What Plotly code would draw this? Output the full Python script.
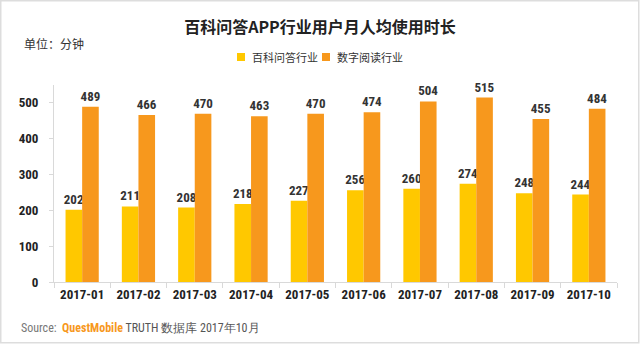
import plotly.graph_objects as go

months = ["2017-01", "2017-02", "2017-03", "2017-04", "2017-05",
          "2017-06", "2017-07", "2017-08", "2017-09", "2017-10"]
baike = [202, 211, 208, 218, 227, 256, 260, 274, 248, 244]
reading = [489, 466, 470, 463, 470, 474, 504, 515, 455, 484]
series_names = ["百科问答行业", "数字阅读行业"]
y_ticks = [0, 100, 200, 300, 400, 500]

W, H = 640, 344
L, R, T, B = 54, 23, 85, 62
pw, ph = W - L - R, H - T - B

CJK = "Noto Sans CJK SC"
NUM = "Liberation Sans Narrow, Roboto Condensed, Roboto"

colors = ["#FFC800", "#F7981D"]

fig = go.Figure()
for name, vals, col in [(series_names[0], baike, colors[0]),
                        (series_names[1], reading, colors[1])]:
    fig.add_trace(go.Bar(
        x=months, y=vals, name=name,
        marker=dict(color=col, line=dict(width=0)),
        text=[str(v) for v in vals], textposition="outside",
        constraintext="none",
        textfont=dict(family=NUM, size=13, color="#333333", weight="bold"),
        cliponaxis=False, showlegend=False,
    ))

fig.update_layout(
    width=W, height=H,
    margin=dict(l=L, r=R, t=T, b=B),
    paper_bgcolor="white", plot_bgcolor="white",
    barmode="group", bargap=0.41, bargroupgap=0,
    font=dict(family=CJK, color="#333333"),
    title=dict(text="<b>百科问答APP行业用户月人均使用时长</b>",
               x=0.5, xanchor="center", y=1 - 27 / H, yanchor="middle",
               font=dict(family=CJK, size=16, color="#222222")),
    xaxis=dict(type="category", showline=True, linecolor="#D9D9D9", linewidth=1,
               ticks="outside", ticklen=5, tickcolor="#D9D9D9",
               tickson="boundaries",
               tickfont=dict(family=NUM, size=13, color="#222222", weight="bold"),
               showgrid=False),
    yaxis=dict(range=[0, 550], tickvals=y_ticks, showline=True, linecolor="#D9D9D9",
               linewidth=1, ticks="outside", ticklen=4, tickcolor="#D9D9D9",
               ticklabelstandoff=8,
               tickfont=dict(family=NUM, size=13, color="#222222", weight="bold"),
               showgrid=False, zeroline=False),
)

def px_x(x):
    return (x - L) / pw

def px_y(y):
    return (H - B - y) / ph

# legend drawn as squares + text
legend_pos = [(241, 250), (326, 335)]
for (sx, tx), name, col in zip(legend_pos, series_names, colors):
    fig.add_shape(type="rect", xref="paper", yref="paper",
                  x0=px_x(sx - 4), x1=px_x(sx + 4), y0=px_y(57 + 4), y1=px_y(57 - 4),
                  fillcolor=col, line=dict(width=0))
    fig.add_annotation(text=name, xref="paper", yref="paper", x=px_x(tx), y=px_y(57),
                       xanchor="left", yanchor="middle", showarrow=False,
                       font=dict(family=CJK, size=11, color="#333333"))

fig.add_annotation(text="单位：分钟", xref="paper", yref="paper",
                   x=px_x(22), y=px_y(44), xanchor="left", yanchor="middle",
                   showarrow=False, font=dict(family=CJK, size=12, color="#333333"))
fig.add_annotation(
    text="<span style='color:#777777'>Source:</span>  "
         "<b><span style='color:#F7981D'>QuestMobile</span></b> "
         "<span style='color:#555555'>TRUTH 数据库 2017年10月</span>",
    xref="paper", yref="paper", x=px_x(19), y=px_y(328),
    xanchor="left", yanchor="middle", showarrow=False,
    font=dict(family=NUM, size=12))

fig.add_shape(type="rect", xref="paper", yref="paper",
              x0=px_x(0.75), x1=px_x(W - 1.25),
              y0=px_y(H - 1.25), y1=px_y(0.75),
              line=dict(color="#DDDDDD", width=1.5), layer="below")

fig.write_html("out.html")
